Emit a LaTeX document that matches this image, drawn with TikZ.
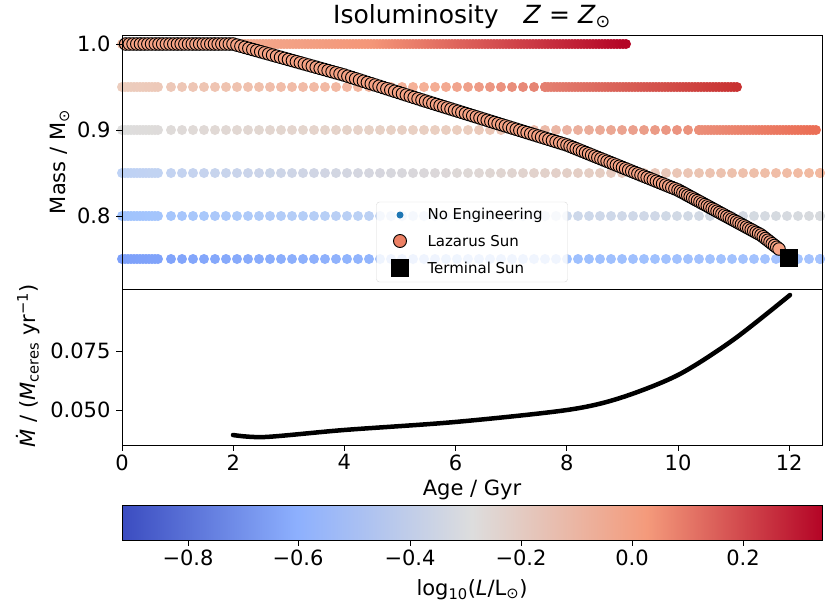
\documentclass[tikz,border=0pt]{standalone}
\usepackage{fontspec}
\setmainfont{DejaVu Sans}
\begin{document}
\pgfdeclarehorizontalshading{cw}{100bp}{rgb(0bp)=(0.231,0.298,0.753); rgb(25bp)=(0.231,0.298,0.753); rgb(37.5bp)=(0.553,0.690,0.996); rgb(50bp)=(0.867,0.867,0.867); rgb(62.5bp)=(0.957,0.604,0.482); rgb(75bp)=(0.706,0.016,0.149); rgb(100bp)=(0.706,0.016,0.149)}
\begin{tikzpicture}[x=1pt,y=-1pt,
  lbl/.style={font=\fontsize{21}{21}\selectfont},
  leg/.style={font=\fontsize{15}{15}\selectfont,anchor=west},
  laz/.style={draw=black,fill=lazc,line width=0.9pt},
  tk/.style={line width=0.8pt}]
\definecolor{lazc}{RGB}{245,162,132}
\useasboundingbox (0,0) rectangle (830,611);
% dot rows
\newcommand\dotat[6]{% x, y, xend, A, B, C
   \pgfmathsetmacro\f{(#1-122)/(#3-122)}%
   \ifdim\f pt<0.5pt
     \definecolor{ca}{RGB}{#4}\definecolor{cb}{RGB}{#5}%
     \pgfmathsetmacro\p{100*(1-2*\f)}%
   \else
     \definecolor{ca}{RGB}{#5}\definecolor{cb}{RGB}{#6}%
     \pgfmathsetmacro\p{100*(2-2*\f)}%
   \fi
   \fill[ca!\p!cb] (#1,#2) circle (5);}
\newcommand\dotrow[6]{% y, xend, xdense, A, B, C
  \foreach \x in {122,125,...,160} {\dotat{\x}{#1}{#2}{#4}{#5}{#6}}%
  \foreach \x in {171,182,...,#3} {\dotat{\x}{#1}{#2}{#4}{#5}{#6}}%
  \foreach \x in {#3,...,#2} {\pgfmathparse{mod(\x-#3,3)==0}\ifnum\pgfmathresult=1 \dotat{\x}{#1}{#2}{#4}{#5}{#6}\fi}}
\dotrow{44}{627}{161}{240,185,160}{244,150,120}{180,4,38}
\dotrow{87}{738}{545}{236,205,190}{245,175,150}{200,50,50}
\dotrow{130}{818}{699}{221,221,221}{235,205,190}{235,110,85}
\dotrow{173}{818}{820}{190,210,245}{222,216,214}{242,185,160}
\dotrow{216}{818}{820}{160,195,254}{200,215,240}{215,218,222}
\dotrow{259}{818}{820}{125,160,250}{155,190,254}{165,195,254}
% Lazarus track
\foreach \xa/\ya/\xb/\yb/\n in {122/44/233/44/30, 233/44/344/75/28, 344/75/422/100/20, 422/100/567/145/40, 567/145/678/190/36, 678/190/761/235/34, 761/235/779/249/8} {
  \foreach \i in {1,...,\n} {
    \pgfmathsetmacro\xx{\xa+(\xb-\xa)*\i/\n}
    \pgfmathsetmacro\yy{\ya+(\yb-\ya)*\i/\n}
    \draw[laz] (\xx,\yy) circle (6.3);
  }}
\node[fill=black,minimum size=18,inner sep=0] (term) at (789,258) {};
% legend
\node[draw=black!15,fill=white,fill opacity=0.85,rounded corners=3,minimum width=191,minimum height=80] (legbox) at (472,242) {};
\fill[fill={rgb,255:red,31;green,119;blue,180}] (400,215) circle (3.5);
\draw[laz,fill={rgb,255:red,236;green,128;blue,100}] (400,241) circle (6.5);
\node[fill=black,minimum size=18,inner sep=0] (legsq) at (400,268) {};
\node[leg] (l1) at (424,215) {No Engineering};
\node[leg] (l2) at (424,241) {Lazarus Sun};
\node[leg] (l3) at (424,268) {Terminal Sun};
% axes frames
\draw[tk] (122,35) rectangle (822,289);
\draw[tk] (122,289) rectangle (822,445);
% y ticks
\foreach \y/\t in {44/1.0,130/0.9,216/0.8,351/0.075,410/0.050} {
  \draw[tk] (122,\y) -- (116,\y);
  \node[lbl,anchor=east] at (114,\y) {\t};}
% x ticks
\foreach \i in {0,...,6} {
  \pgfmathsetmacro\xx{122+111.2*\i}
  \pgfmathtruncatemacro\lab{2*\i}
  \draw[tk] (\xx,445) -- (\xx,451);
  \node[lbl,anchor=north] at (\xx,451) {\lab};}
% bottom curve
\draw[line width=4.5pt,line cap=round] plot[smooth] coordinates {(233,435) (265,437) (344,430) (455,422) (567,410) (620,398) (678,375) (733,340) (790,295)};
% labels
\node[lbl,font=\fontsize{25}{25}\selectfont] (title) at (472,17) {Isoluminosity\quad \textit{Z} = \textit{Z}\textsubscript{⊙}};
\node[lbl,rotate=90] (ylab) at (60,162) {Mass / M\textsubscript{⊙}};
\node[lbl,rotate=90] (ylab2) at (28,366) {\textit{Ṁ} / (\textit{M}\textsubscript{ceres} yr\textsuperscript{−1})};
\node[lbl] (xlab) at (472,490) {Age / Gyr};
% colorbar
\shade[shading=cw] (122,505) rectangle (822,540);
\draw[tk] (122,505) rectangle (822,540);
\foreach \x/\t in {188/−0.8,298/−0.6,410/−0.4,521/−0.2,632/0.0,743/0.2} {
  \draw[tk] (\x,540) -- (\x,546);
  \node[lbl,anchor=north] at (\x,546) {\t};}
\node[lbl] (cblab) at (472,590) {log\textsubscript{10}(\textit{L}/L\textsubscript{⊙})};
\end{tikzpicture}
\end{document}
